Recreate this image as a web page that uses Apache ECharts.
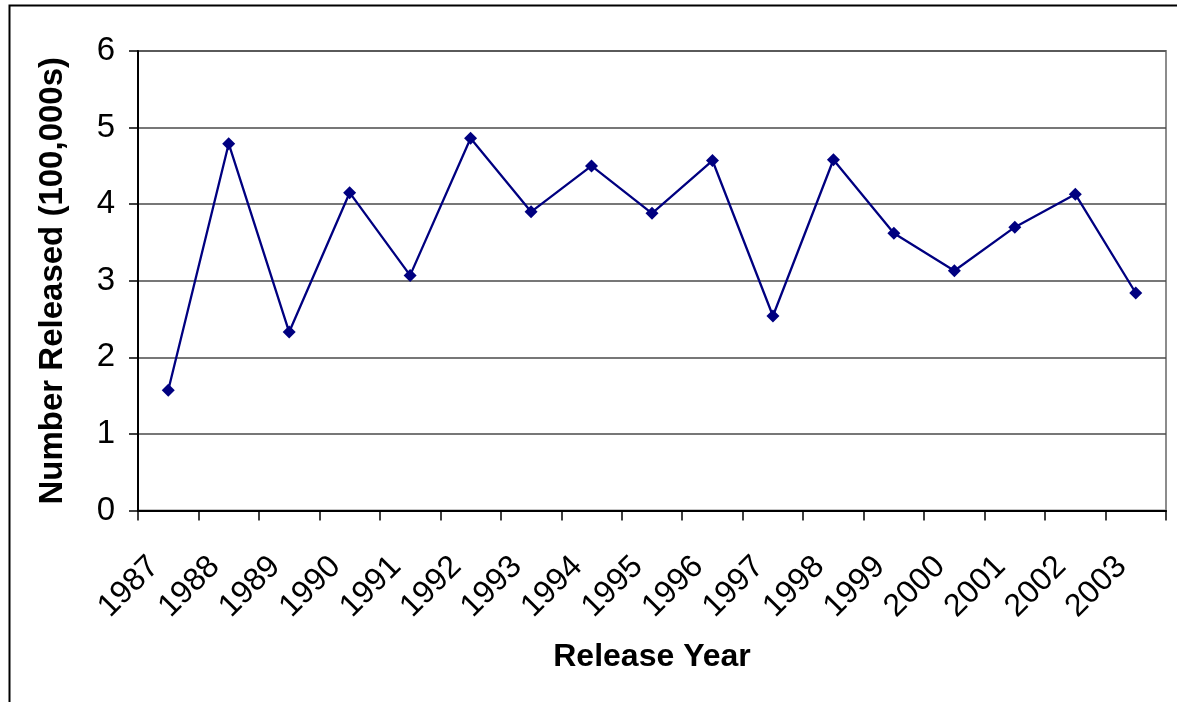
<!DOCTYPE html>
<html>
<head>
<meta charset="utf-8">
<script src="https://cdn.jsdelivr.net/npm/echarts@6/dist/echarts.min.js"></script>
<style>
  html, body { margin: 0; padding: 0; background: #fff; }
  #chart { width: 1177px; height: 702px; }
</style>
</head>
<body>
<div id="chart"></div>
<script>
// Release years and the number released each year (in 100,000s)
const years = ['1987', '1988', '1989', '1990', '1991', '1992', '1993', '1994', '1995',
               '1996', '1997', '1998', '1999', '2000', '2001', '2002', '2003'];
const released = [1.57, 4.79, 2.33, 4.15, 3.07, 4.86, 3.90, 4.50, 3.88,
                  4.57, 2.54, 4.58, 3.62, 3.13, 3.70, 4.13, 2.84];
const yTicks = [0, 1, 2, 3, 4, 5, 6];

const FONT = '"Liberation Sans", Arial, sans-serif';

const chart = echarts.init(document.getElementById('chart'), null, { renderer: 'canvas' });

chart.setOption({
  animation: false,
  backgroundColor: '#ffffff',
  grid: {
    left: 138, right: 11, top: 51, bottom: 191.5,
    show: true,
    borderColor: '#8c8c8c',
    borderWidth: 2,
    backgroundColor: '#ffffff'
  },
  graphic: [{
    type: 'rect',
    shape: { x: 9.5, y: 5.5, width: 1200, height: 800 },
    style: { fill: 'none', stroke: '#000', lineWidth: 2 },
    silent: true,
    z: 100
  }],
  xAxis: {
    type: 'category',
    data: years,
    boundaryGap: true,
    name: 'Release Year',
    nameLocation: 'middle',
    nameGap: 131,
    nameTextStyle: { fontFamily: FONT, fontSize: 32, fontWeight: 'bold', color: '#000' },
    axisLine: { show: true, lineStyle: { color: '#000', width: 2 } },
    axisTick: { show: true, length: 10, inside: false, alignWithLabel: false,
                lineStyle: { color: '#000', width: 1.5 } },
    axisLabel: { rotate: 45, margin: 37, padding: [0, 20, 0, 0],
                 fontFamily: FONT, fontSize: 32, color: '#000', interval: 0 },
    splitLine: { show: false }
  },
  yAxis: {
    type: 'value',
    min: yTicks[0],
    max: yTicks[yTicks.length - 1],
    interval: 1,
    name: 'Number Released (100,000s)',
    nameLocation: 'middle',
    nameGap: 69,
    nameTextStyle: { fontFamily: FONT, fontSize: 33, fontWeight: 'bold', color: '#000' },
    axisLine: { show: true, lineStyle: { color: '#000', width: 2 } },
    axisTick: { show: true, length: 9, inside: false, lineStyle: { color: '#000', width: 1.5 } },
    axisLabel: { margin: 23, fontFamily: FONT, fontSize: 33, color: '#000' },
    splitLine: { show: true, lineStyle: { color: '#4a4a4a', width: 1.5 } }
  },
  series: [{
    type: 'line',
    data: released,
    symbol: 'diamond',
    symbolSize: 13,
    showSymbol: true,
    lineStyle: { color: '#000080', width: 2.3 },
    itemStyle: { color: '#000080', borderWidth: 0 },
    z: 5
  }]
});
</script>
</body>
</html>
